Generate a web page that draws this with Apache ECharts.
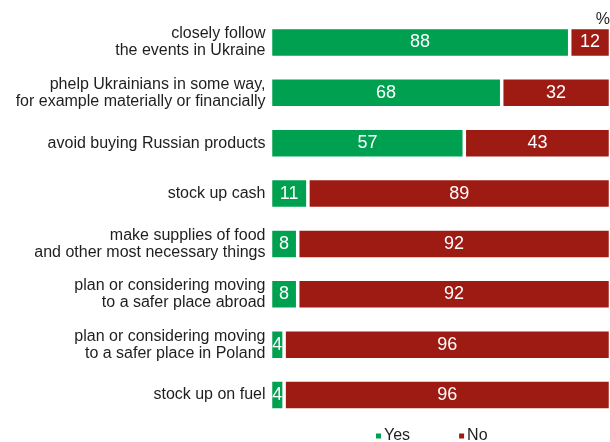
<!DOCTYPE html>
<html>
<head>
<meta charset="utf-8">
<script src="https://cdn.jsdelivr.net/npm/echarts@6/dist/echarts.min.js"></script>
<style>
  html, body { margin: 0; padding: 0; background: #fff; }
  #chart { width: 610px; height: 442px; }
</style>
</head>
<body>
<div id="chart"></div>
<script>
// Survey items, top to bottom
const categories = [
  'closely follow\nthe events in Ukraine',
  'phelp Ukrainians in some way,\nfor example materially or financially',
  'avoid buying Russian products',
  'stock up cash',
  'make supplies of food\nand other most necessary things',
  'plan or considering moving\nto a safer place abroad',
  'plan or considering moving\nto a safer place in Poland',
  'stock up on fuel'
];
// Shares of respondents, %
const yesValues = [88, 68, 57, 11, 8, 8, 4, 4];
const noValues = [12, 32, 43, 89, 92, 92, 96, 96];

const FONT = '"Liberation Sans", Arial, sans-serif';
const GREEN = '#00a051';
const RED = '#9e1b13';

const chart = echarts.init(document.getElementById('chart'), null, { renderer: 'canvas' });

// White outline separates the two stacked segments
const barStyle = (color) => ({
  color: color,
  borderColor: '#ffffff',
  borderWidth: 1.75
});

const valueLabel = {
  show: true,
  position: 'inside',
  color: '#ffffff',
  fontSize: 18,
  fontFamily: FONT
};

chart.setOption({
  animation: false,
  grid: {
    left: 270.5,
    top: 17.3,
    width: 340,
    height: 402.9,
    outerBoundsMode: 'none'
  },
  xAxis: {
    type: 'value',
    min: 0,
    max: 100,
    show: false
  },
  yAxis: {
    type: 'category',
    inverse: true,
    data: categories,
    axisLine: { show: false },
    axisTick: { show: false },
    splitLine: { show: false },
    axisLabel: {
      margin: 5,
      color: '#1e1e1e',
      fontSize: 16,
      lineHeight: 17,
      fontFamily: FONT,
      align: 'right'
    }
  },
  legend: {
    left: 374,
    top: 428,
    padding: 0,
    itemWidth: 7,
    itemHeight: 7,
    itemGap: 47,
    icon: 'rect',
    textStyle: {
      color: '#1e1e1e',
      fontSize: 16,
      fontFamily: FONT,
      padding: [0, 0, 0, -3]
    },
    data: ['Yes', 'No']
  },
  graphic: [{
    type: 'text',
    right: 0,
    top: 12,
    style: {
      text: '%',
      fill: '#1e1e1e',
      font: '16px ' + FONT
    }
  }],
  series: [
    {
      name: 'Yes',
      type: 'bar',
      stack: 'total',
      barWidth: 30,
      data: yesValues,
      itemStyle: barStyle(GREEN),
      label: valueLabel
    },
    {
      name: 'No',
      type: 'bar',
      stack: 'total',
      barWidth: 30,
      data: noValues,
      itemStyle: barStyle(RED),
      label: valueLabel
    }
  ]
});
</script>
</body>
</html>
